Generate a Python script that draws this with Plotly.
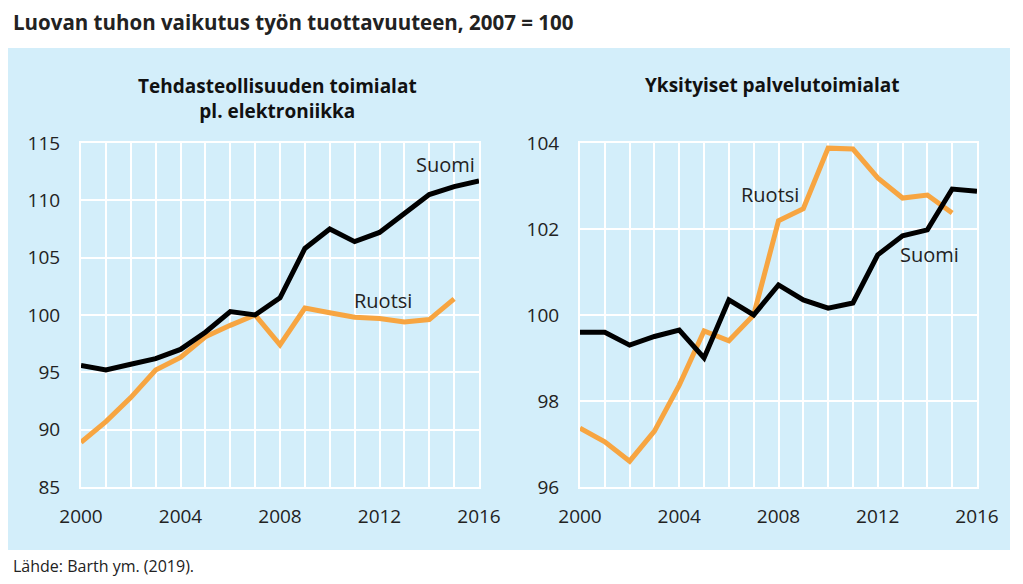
import plotly.graph_objects as go
from plotly.subplots import make_subplots

years = list(range(2000, 2017))
tick_text = [str(y) if y % 4 == 0 else "" for y in years]

# Tehdasteollisuuden toimialat pl. elektroniikka
teh_suomi = [95.6, 95.2, 95.7, 96.2, 97.0, 98.5, 100.3, 100.0, 101.5, 105.8,
             107.5, 106.4, 107.2, 108.9, 110.5, 111.2, 111.7]
teh_ruotsi = [88.9, 90.7, 92.8, 95.2, 96.3, 98.1, 99.1, 100.0, 97.4, 100.6,
              100.2, 99.8, 99.7, 99.4, 99.6, 101.4]

# Yksityiset palvelutoimialat
pal_suomi = [99.6, 99.6, 99.3, 99.5, 99.65, 99.0, 100.35, 100.0, 100.7, 100.35,
             100.16, 100.28, 101.4, 101.84, 101.98, 102.93, 102.88]
pal_ruotsi = [97.37, 97.05, 96.6, 97.3, 98.37, 99.63, 99.4, 100.0, 102.19, 102.47,
              103.88, 103.86, 103.19, 102.72, 102.79, 102.37]

BG = "#D3EEFA"
ORANGE = "#F7A541"
FONT = "Open Sans"

# page body has an 8px margin, so the figure is a bit smaller and shifted
OFF = 8
W, H = 1023 - 2 * OFF, 584 - 2 * OFF


def px(x):
    return (x - OFF) / W


def py(y):
    return 1 - (y - OFF) / H


fig = make_subplots(rows=1, cols=2)

fig.add_trace(go.Scatter(x=years[:len(teh_ruotsi)], y=teh_ruotsi, mode="lines",
                         line=dict(color=ORANGE, width=5)), row=1, col=1)
fig.add_trace(go.Scatter(x=years, y=teh_suomi, mode="lines",
                         line=dict(color="black", width=5)), row=1, col=1)
fig.add_trace(go.Scatter(x=years[:len(pal_ruotsi)], y=pal_ruotsi, mode="lines",
                         line=dict(color=ORANGE, width=5)), row=1, col=2)
fig.add_trace(go.Scatter(x=years, y=pal_suomi, mode="lines",
                         line=dict(color="black", width=5)), row=1, col=2)

fig.update_xaxes(range=[2000, 2016], tickvals=years, ticktext=tick_text,
                 showgrid=True, gridcolor="white", gridwidth=2,
                 showline=True, linecolor="white", linewidth=2, mirror=True,
                 ticks="", ticklabelstandoff=11, zeroline=False, automargin=False,
                 tickfont=dict(size=19, color="#222"))
fig.update_yaxes(showgrid=True, gridcolor="white", gridwidth=2,
                 showline=True, linecolor="white", linewidth=2, mirror=True,
                 ticks="", ticklabelstandoff=15, zeroline=False, automargin=False,
                 tickfont=dict(size=19, color="#222"), domain=[py(487), py(143)])
fig.update_xaxes(domain=[px(81), px(479)], row=1, col=1)
fig.update_xaxes(domain=[px(580), px(977)], row=1, col=2)
fig.update_yaxes(range=[85, 115], dtick=5, row=1, col=1)
fig.update_yaxes(range=[96, 104], dtick=2, row=1, col=2)

fig.add_shape(type="rect", xref="paper", yref="paper", layer="below",
              x0=px(8), x1=px(1010), y0=py(550), y1=py(48),
              fillcolor=BG, line=dict(width=0))

ann = dict(showarrow=False, font=dict(family=FONT, size=20, color="#222"))
fig.add_annotation(x=2014.65, y=113.1, xref="x", yref="y", text="Suomi", **ann)
fig.add_annotation(x=2012.15, y=101.3, xref="x", yref="y", text="Ruotsi", **ann)
fig.add_annotation(x=2007.65, y=102.8, xref="x2", yref="y2", text="Ruotsi", **ann)
fig.add_annotation(x=2014.1, y=101.4, xref="x2", yref="y2", text="Suomi", **ann)

bold = dict(family=FONT, size=19, color="#111")
fig.add_annotation(x=px(277), y=py(98), xref="paper", yref="paper",
                   text="<b>Tehdasteollisuuden toimialat</b><br><b>pl. elektroniikka</b>",
                   showarrow=False, font=bold, align="center",
                   xanchor="center", yanchor="middle")
fig.add_annotation(x=px(772), y=py(85), xref="paper", yref="paper",
                   text="<b>Yksityiset palvelutoimialat</b>",
                   showarrow=False, font=bold, xanchor="center", yanchor="middle")
fig.add_annotation(x=px(11), y=py(22), xref="paper", yref="paper",
                   xanchor="left", yanchor="middle", showarrow=False,
                   text="<b>Luovan tuhon vaikutus työn tuottavuuteen, 2007 = 100</b>",
                   font=dict(family=FONT, size=20.5, color="#222"))
fig.add_annotation(x=px(11), y=py(566), xref="paper", yref="paper",
                   xanchor="left", yanchor="middle", showarrow=False,
                   text="Lähde: Barth ym. (2019).",
                   font=dict(family=FONT, size=16, color="#222"))

fig.update_layout(width=W, height=H, margin=dict(l=0, r=0, t=0, b=0),
                  paper_bgcolor="white", plot_bgcolor=BG, showlegend=False,
                  font=dict(family=FONT))

fig.write_html("out.html")
